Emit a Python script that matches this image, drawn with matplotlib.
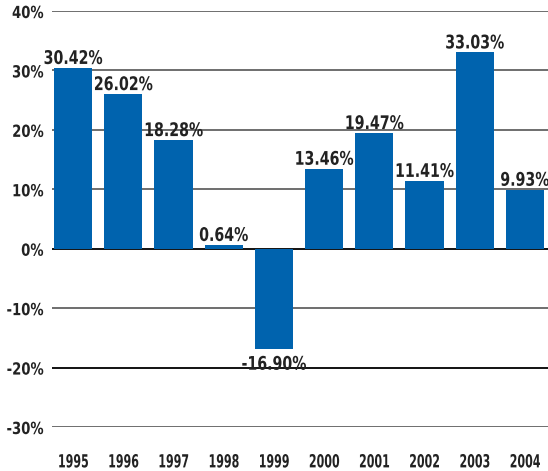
import numpy as np
import matplotlib
matplotlib.use('Agg')
import matplotlib.pyplot as plt
from matplotlib import patheffects
from matplotlib.font_manager import FontProperties
from matplotlib.transforms import Affine2D

#chart data
years = ['1995', '1996', '1997', '1998', '1999', '2000', '2001', '2002', '2003', '2004']
returns = [30.42, 26.02, 18.28, 0.64, -16.90, 13.46, 19.47, 11.41, 33.03, 9.93]
yticks = [-30, -20, -10, 0, 10, 20, 30, 40]

bar_col = '#0063ae'
txt_col = '#222222'


class Squeeze(patheffects.AbstractPathEffect):
    """draw text narrower (reference uses a condensed face)"""
    def __init__(self, sx, anchor='center'):
        super().__init__()
        self.sx = sx
        self.anchor = anchor

    def draw_path(self, renderer, gc, tpath, affine, rgbFace=None):
        ext = tpath.get_extents()
        x0 = {'left': ext.x0, 'center': (ext.x0 + ext.x1) / 2, 'right': ext.x1}[self.anchor]
        t = Affine2D().translate(-x0, 0).scale(self.sx, 1).translate(x0, 0) + affine
        renderer.draw_path(gc, tpath, t, rgbFace)


def cfont(size):
    return FontProperties(family='DejaVu Sans', stretch='condensed', weight='bold', size=size)


fig = plt.figure(figsize=(5.48, 4.71), dpi=100)
ax = fig.add_axes([52/548, 44/471, 496/548, 416/471])

x = np.arange(len(years))
#gridlines first so bars sit on top
for t in yticks:
    c = '#111111' if t in (0, -20) else '#6e6e6e'
    ax.axhline(t, color=c, lw=1.4, zorder=1)

ax.bar(x, returns, width=0.76, color=bar_col, zorder=2)

for xi, v in zip(x, returns):
    off, va = ((0, 0), 'bottom') if v >= 0 else ((0, -4), 'top')
    ax.annotate(f'{v:.2f}%', (xi, v), textcoords='offset points', xytext=off,
                ha='center', va=va, fontproperties=cfont(13.5), color=txt_col,
                annotation_clip=False, zorder=3,
                path_effects=[Squeeze(0.84, 'center')])

ax.set_xlim(-0.42, len(years) - 1 + 0.46)
ax.set_ylim(-30, 40)
ax.set_yticks(yticks)
ax.set_yticklabels([f'{t}%' for t in yticks], fontproperties=cfont(12), color=txt_col)
ax.set_xticks(x)
ax.set_xticklabels(years, fontproperties=cfont(13), color=txt_col)
for lab in ax.get_yticklabels():
    lab.set_path_effects([Squeeze(0.88, 'right')])
for lab in ax.get_xticklabels():
    lab.set_path_effects([Squeeze(0.68, 'center')])
ax.tick_params(axis='y', length=0, pad=6)
ax.tick_params(axis='x', length=0, pad=19)
for s in ax.spines.values():
    s.set_visible(False)

plt.savefig('out.png', dpi=100)
